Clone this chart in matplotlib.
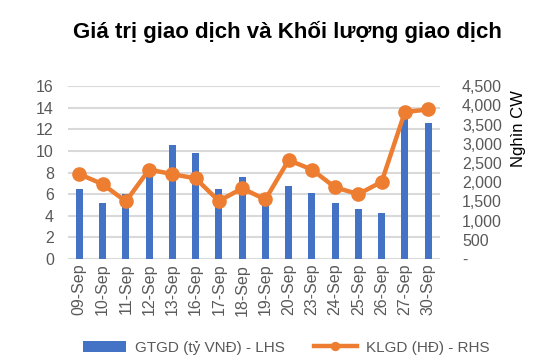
import matplotlib.pyplot as plt
import numpy as np
from matplotlib.ticker import FuncFormatter

plt.rcParams['font.family'] = ['Liberation Sans', 'DejaVu Sans']

DATES = ["09-Sep", "10-Sep", "11-Sep", "12-Sep", "13-Sep", "16-Sep", "17-Sep", "18-Sep",
         "19-Sep", "20-Sep", "23-Sep", "24-Sep", "25-Sep", "26-Sep", "27-Sep", "30-Sep"]
GTGD = [6.45, 5.2, 6.0, 8.1, 10.55, 9.8, 6.45, 7.6, 5.5, 6.8, 6.15, 5.2, 4.6, 4.3, 13.3, 12.6]
KLGD = [2210, 1950, 1500, 2330, 2210, 2100, 1510, 1840, 1550, 2575, 2330, 1865, 1690, 2010, 3830, 3895]

BLUE = "#4472C4"
ORANGE = "#ED7D31"
GREY = "#595959"
GRID = "#D9D9D9"


def rhs_fmt(v, pos):
    if v == 0:
        return "-"
    return f"{v:,.0f}"


fig = plt.figure(figsize=(5.35, 3.64), dpi=100)
ax = fig.add_axes([0.1266, 0.2885, 0.6954, 0.4745])
ax2 = ax.twinx()

x = np.arange(len(DATES))
bars = ax.bar(x, GTGD, width=0.31, color=BLUE, zorder=2, label="GTGD (tỷ VNĐ) - LHS")
line, = ax2.plot(x, KLGD, color=ORANGE, lw=3.2, marker="o", ms=9.5, zorder=3,
                 label="KLGD (HĐ) - RHS")

ax.set_xlim(-0.5, len(DATES) - 0.5)
ax.set_ylim(0, 16)
ax.set_yticks(np.arange(0, 17, 2))
ax2.set_ylim(0, 4500)
ax2.set_yticks(np.arange(0, 4501, 500))
ax2.yaxis.set_major_formatter(FuncFormatter(rhs_fmt))

ax.grid(axis="y", color=GRID, lw=1.5, zorder=0)
ax.set_axisbelow(True)
for a in (ax, ax2):
    for s in a.spines.values():
        s.set_visible(False)
    a.tick_params(length=0, labelsize=11.5, labelcolor=GREY)

ax.set_xticks(x)
ax.set_xticklabels(DATES, rotation=90)
ax.tick_params(axis="y", pad=10)
ax2.tick_params(axis="y", pad=16)

# axis title sits near the top on the right, as in the source chart
fig.text(518 / 535, 1 - 129 / 364, "Nghìn CW", rotation=90, ha="center", va="center",
         fontsize=12, color="black")

fig.text(0.537, 0.912, "Giá trị giao dịch và Khối lượng giao dịch", ha="center", va="center",
         fontsize=16, fontweight="bold")

fig.legend([bars, line], [bars.get_label(), line.get_label()], loc="center",
           bbox_to_anchor=(0.535, 0.045), ncol=2, frameon=False, fontsize=11,
           handlelength=2.8, handletextpad=0.6, columnspacing=1.9, labelcolor=GREY,
           markerscale=0.6)

fig.savefig("out.png", dpi=100)
